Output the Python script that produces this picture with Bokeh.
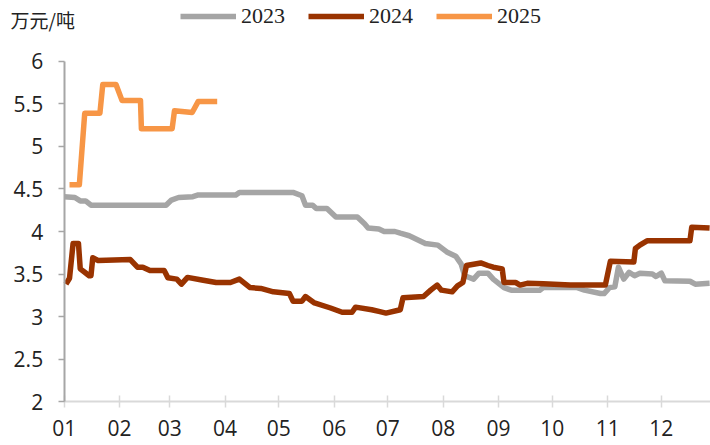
from bokeh.plotting import figure
from bokeh.models import (Range1d, FixedTicker, Legend, LegendItem, Label,
                          NumeralTickFormatter, LinearAxis)
from bokeh.embed import file_html
from bokeh.resources import INLINE

# ---- data (x = day of year, 0 = Jan 1) ----
month_start_days = [0, 31, 59, 90, 120, 151, 181, 212, 243, 273, 304, 334]
month_labels = ["01", "02", "03", "04", "05", "06", "07", "08", "09", "10", "11", "12"]
y_ticks = [2, 2.5, 3, 3.5, 4, 4.5, 5, 5.5, 6]

days_2023 = [0, 6, 9, 12, 15, 57, 60, 64, 72, 75, 96, 98, 128, 133, 135, 139, 141, 147, 152, 164,
             168, 170, 176, 179, 185, 188, 193, 202, 209, 214, 219, 222, 224, 229, 232, 237, 240,
             246, 250, 266, 268, 287, 291, 300, 302, 305, 308, 310, 313, 316, 319, 322, 329, 331,
             334, 336, 350, 353, 361]
vals_2023 = [4.41, 4.40, 4.36, 4.36, 4.31, 4.31, 4.37, 4.40, 4.41, 4.43, 4.43, 4.46, 4.46, 4.42,
             4.31, 4.31, 4.27, 4.27, 4.17, 4.17, 4.09, 4.04, 4.03, 4.00, 4.00, 3.98, 3.95, 3.86,
             3.84, 3.76, 3.71, 3.62, 3.48, 3.44, 3.51, 3.51, 3.44, 3.34, 3.31, 3.31, 3.34, 3.34,
             3.31, 3.27, 3.27, 3.34, 3.35, 3.58, 3.44, 3.52, 3.48, 3.51, 3.50, 3.47, 3.51, 3.42,
             3.415, 3.38, 3.39]

days_2024 = [1, 3, 5, 8, 9, 11.5, 14, 15, 16, 19, 37, 41, 44, 48, 56, 58, 63, 65.6, 69, 77, 85,
             93, 98, 104, 110, 117, 126, 128, 133, 135, 140, 149, 155.5, 161, 163, 172, 176, 180,
             188, 189.5, 201, 205, 208.6, 211, 217, 220, 223, 225, 233, 237, 240, 245, 246, 252.5,
             255, 259, 268, 283, 302.7, 305.5, 318.6, 319.5, 322, 326, 350, 351, 361]
vals_2024 = [3.38, 3.45, 3.86, 3.86, 3.56, 3.52, 3.48, 3.48, 3.69, 3.66, 3.67, 3.58, 3.58, 3.54,
             3.54, 3.455, 3.44, 3.38, 3.46, 3.43, 3.40, 3.40, 3.44, 3.34, 3.33, 3.29, 3.27, 3.18,
             3.18, 3.235, 3.16, 3.10, 3.05, 3.05, 3.11, 3.08, 3.06, 3.04, 3.08, 3.22, 3.235, 3.31,
             3.37, 3.31, 3.29, 3.36, 3.40, 3.60, 3.63, 3.60, 3.58, 3.56, 3.40, 3.40, 3.37, 3.39,
             3.385, 3.37, 3.37, 3.65, 3.64, 3.80, 3.84, 3.89, 3.89, 4.05, 4.04]

days_2025 = [3, 8.5, 11.5, 20, 21.6, 29, 32.4, 42.7, 43.2, 60.4, 61.7, 71.6, 75, 85.6]
vals_2025 = [4.55, 4.55, 5.39, 5.39, 5.73, 5.73, 5.54, 5.54, 5.21, 5.21, 5.42, 5.40, 5.53, 5.53]

series_names = ["2023", "2024", "2025"]
unit_text = "万元/吨"

# ---- styles ----
C23, C24, C25 = "#A5A5A5", "#993300", "#F79646"
TXT = "#222222"

p = figure(width=710, height=445, output_backend="svg", toolbar_location=None,
           x_range=Range1d(-35.6, 361.5), y_range=Range1d(1.4824, 6.7176),
           x_axis_location=None, y_axis_location=None,
           min_border_left=0, min_border_right=0, min_border_top=0, min_border_bottom=0)
p.outline_line_color = None
p.xgrid.grid_line_color = None
p.ygrid.grid_line_color = None
p.background_fill_color = "white"

r23 = p.line(days_2023, vals_2023, line_color=C23, line_width=5.5, line_join="round")
r24 = p.line(days_2024, vals_2024, line_color=C24, line_width=5.5, line_join="round")
r25 = p.line(days_2025, vals_2025, line_color=C25, line_width=5.5, line_join="round")

# y axis at day 0
ya = LinearAxis(fixed_location=0)
ya.ticker = FixedTicker(ticks=y_ticks)
ya.formatter = NumeralTickFormatter(format="0.[0]")
ya.bounds = (2, 6)
ya.axis_line_color = "#A6A6A6"
ya.axis_line_width = 2
ya.major_tick_line_color = "#A6A6A6"
ya.major_tick_line_width = 1.5
ya.major_tick_out = 6
ya.major_tick_in = 0
ya.minor_tick_line_color = None
ya.major_label_standoff = 15
ya.major_label_text_font = "Open Sans"
ya.major_label_text_font_size = "21px"
ya.major_label_text_color = TXT
p.add_layout(ya, "left")

# x axis at value 2
xa = LinearAxis(fixed_location=2)
xa.ticker = FixedTicker(ticks=month_start_days)
xa.major_label_overrides = {d: lab for d, lab in zip(month_start_days, month_labels)}
xa.bounds = (0, 361.5)
xa.axis_line_color = "#D9D9D9"
xa.axis_line_width = 2
xa.major_tick_line_color = "#D9D9D9"
xa.major_tick_line_width = 1.5
xa.major_tick_out = 6
xa.major_tick_in = 6
xa.minor_tick_line_color = None
xa.major_label_standoff = 12
xa.major_label_text_font = "Open Sans"
xa.major_label_text_font_size = "21px"
xa.major_label_text_color = TXT
p.add_layout(xa, "below")

legend = Legend(items=[LegendItem(label=n, renderers=[r]) for n, r in zip(series_names, [r23, r24, r25])],
                orientation="horizontal", location=(180, 416),
                glyph_width=56, glyph_height=20, label_standoff=5, spacing=23,
                padding=0, margin=0, border_line_color=None, background_fill_alpha=0,
                label_text_font="Liberation Serif", label_text_font_size="22px",
                label_text_color=TXT)
p.add_layout(legend)

p.add_layout(Label(x=-30, y=6.494, text=unit_text, text_font="Noto Sans CJK SC",
                   text_font_size="19px", text_baseline="middle", text_align="left",
                   text_color=TXT))

open("out.html", "w").write(file_html(p, INLINE))
